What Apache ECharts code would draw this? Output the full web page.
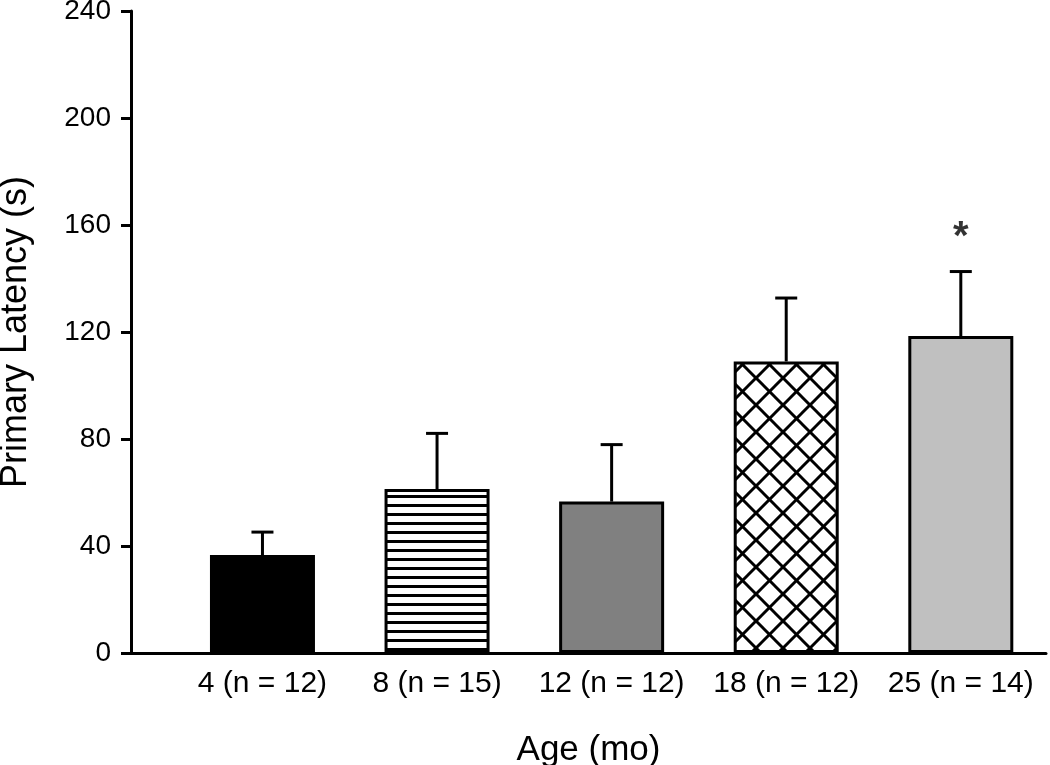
<!DOCTYPE html>
<html><head><meta charset="utf-8">
<script src="https://cdn.jsdelivr.net/npm/echarts@6/dist/echarts.min.js"></script>
<style>html,body{margin:0;padding:0;background:#fff}#c{width:1050px;height:765px}</style>
</head><body><div id="c"></div>
<script>
// ---- data ----
const categories = ['4 (n = 12)', '8 (n = 15)', '12 (n = 12)', '18 (n = 12)', '25 (n = 14)'];
const means = [36.6, 61.3, 56.6, 109.0, 118.5];
const upperErr = [45.2, 82.1, 77.9, 132.7, 142.6];
const yTicks = [0, 40, 80, 120, 160, 200, 240];
const sigMarks = ['', '', '', '', '*'];
const sigValues = [null, null, null, null, 155];

// ---- fill patterns ----
function stripes() {
  const c = document.createElement('canvas'); c.width = 10; c.height = 9;
  const g = c.getContext('2d');
  g.fillStyle = '#fff'; g.fillRect(0, 0, 10, 9);
  g.fillStyle = '#000'; g.fillRect(0, 0, 10, 3);
  return c;
}
function crosshatch() {
  const p = 27;
  const c = document.createElement('canvas'); c.width = p; c.height = p;
  const g = c.getContext('2d');
  g.fillStyle = '#fff'; g.fillRect(0, 0, p, p);
  g.strokeStyle = '#000'; g.lineWidth = 3;
  for (const d of [-p, 0, p]) {
    g.beginPath(); g.moveTo(d, 0); g.lineTo(d + p, p); g.stroke();
    g.beginPath(); g.moveTo(d + p, 0); g.lineTo(d, p); g.stroke();
  }
  return c;
}
const fills = [
  '#000000',
  { image: stripes(), repeat: 'repeat' },
  '#808080',
  { image: crosshatch(), repeat: 'repeat' },
  '#c0c0c0'
];

const FONT = "'Liberation Sans', Arial, sans-serif";
const chart = echarts.init(document.getElementById('c'), null, { renderer: 'canvas' });

const barData = means.map((v, i) => ({
  value: [i + 1, v],
  itemStyle: { color: fills[i], borderColor: '#000', borderWidth: 3 }
}));
const errData = means.map((v, i) => [i + 1, v, upperErr[i]]);
const sigData = sigValues.map((v, i) => v == null ? null : { value: [i + 1, v], label: { formatter: sigMarks[i] } }).filter(Boolean);

chart.setOption({
  animation: false,
  textStyle: { fontFamily: FONT, color: '#000' },
  grid: { left: 131, right: 4, top: 11, bottom: 112, containLabel: false, outerBoundsMode: 'none' },
  xAxis: {
    type: 'value', min: 0.247, max: 5.488,
    name: 'Age (mo)', nameLocation: 'middle', nameGap: 80,
    nameTextStyle: { fontSize: 35, color: '#000', fontFamily: FONT },
    axisLine: { show: true, lineStyle: { color: '#000', width: 3 } },
    axisTick: { show: false },
    splitLine: { show: false },
    axisLabel: {
      customValues: [1, 2, 3, 4, 5],
      formatter: v => categories[Math.round(v) - 1],
      fontSize: 30, color: '#000', margin: 16, fontFamily: FONT
    }
  },
  yAxis: {
    type: 'value', min: 0, max: 240, interval: 40,
    name: 'Primary Latency (s)', nameLocation: 'middle', nameGap: 97,
    nameTextStyle: { fontSize: 36, color: '#000', fontFamily: FONT },
    axisLine: { show: true, lineStyle: { color: '#000', width: 3 } },
    axisTick: { show: true, inside: false, length: 10, lineStyle: { color: '#000', width: 3 } },
    splitLine: { show: false },
    axisLabel: {
      customValues: yTicks,
      fontSize: 28, color: '#000', margin: 20, fontFamily: FONT
    }
  },
  series: [
    {
      type: 'custom', z: 1,
      data: errData,
      renderItem: (params, api) => {
        const x = api.value(0);
        const b = api.coord([x, api.value(1)]);
        const t = api.coord([x, api.value(2)]);
        const hw = 11;
        return {
          type: 'group', children: [
            { type: 'line', shape: { x1: b[0], y1: b[1], x2: t[0], y2: t[1] }, style: { stroke: '#000', lineWidth: 3 } },
            { type: 'line', shape: { x1: t[0] - hw, y1: t[1], x2: t[0] + hw, y2: t[1] }, style: { stroke: '#000', lineWidth: 3 } }
          ]
        };
      }
    },
    {
      type: 'bar', z: 2,
      barWidth: 105,
      data: barData
    },
    {
      type: 'scatter', z: 3,
      symbolSize: 1,
      itemStyle: { color: 'rgba(0,0,0,0)' },
      label: { show: true, position: 'inside', fontSize: 40, fontWeight: 'bold', color: '#000', fontFamily: FONT },
      data: sigData
    }
  ]
});
</script>
</body></html>
